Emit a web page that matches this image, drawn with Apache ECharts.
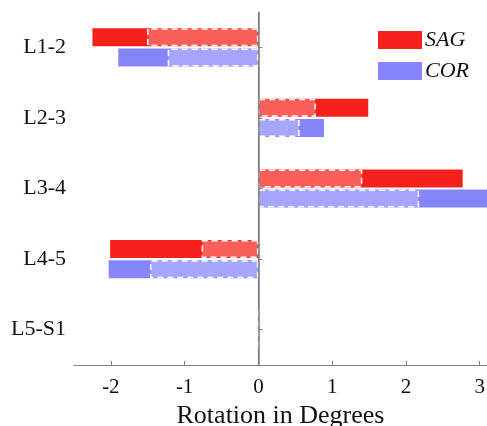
<!DOCTYPE html>
<html>
<head>
<meta charset="utf-8">
<script src="https://cdn.jsdelivr.net/npm/echarts@6/dist/echarts.min.js"></script>
<style>
  html, body { margin: 0; padding: 0; background: #fff; }
  #chart { width: 487px; height: 426px; }
</style>
</head>
<body>
<div id="chart"></div>
<script>
// levels, top to bottom
var levels = ['L1-2', 'L2-3', 'L3-4', 'L4-5', 'L5-S1'];
// full rotation per level (solid bars)
var sagValues = [-2.25, 1.49, 2.77, -2.01, 0.01];
var corValues = [-1.90, 0.89, 3.20, -2.03, 0.01];
// inner part (dashed bars)
var sagInner = [-1.51, 0.78, 1.41, -0.77, 0];
var corInner = [-1.23, 0.56, 2.18, -1.47, 0];
var xTicks = [-2, -1, 0, 1, 2, 3];

var serif = '"Liberation Serif", "DejaVu Serif", serif';
var axisGray = '#808080';

var chartDom = document.getElementById('chart');
var myChart = echarts.init(chartDom);

var catAxis = function (show) {
  return {
    type: 'category',
    data: levels,
    inverse: true,
    show: show,
    axisLine: { show: true, lineStyle: { color: axisGray, width: 1.2 } },
    axisTick: { show: true, inside: true, length: 4, alignWithLabel: true, lineStyle: { color: axisGray } },
    axisLabel: { color: '#111', fontFamily: serif, fontSize: 22, margin: 8 },
    splitLine: { show: false }
  };
};

var dashedStyle = function (fill) {
  return {
    color: fill,
    borderColor: '#ffffff',
    borderWidth: 1.5,
    borderType: [6, 4]
  };
};

var option = {
  animation: false,
  backgroundColor: '#fff',
  grid: { left: 74, right: 0, top: 12, bottom: 61, containLabel: false, outerBoundsMode: 'none' },
  legend: {
    data: ['SAG', 'COR'],
    orient: 'vertical',
    left: 378,
    top: 29,
    padding: 0,
    icon: 'rect',
    itemWidth: 44,
    itemHeight: 18,
    itemGap: 9,
    textStyle: { fontFamily: serif, fontStyle: 'italic', fontSize: 22, color: '#111', padding: [0, 0, 0, -2] }
  },
  xAxis: {
    type: 'value',
    min: -2.5,
    max: 3.1,
    name: 'Rotation in Degrees',
    nameLocation: 'middle',
    nameGap: 32,
    nameTextStyle: { fontFamily: serif, fontSize: 26, color: '#111' },
    axisLine: { show: true, lineStyle: { color: axisGray, width: 1.2 } },
    axisTick: { show: true, inside: true, length: 4, customValues: xTicks, lineStyle: { color: axisGray } },
    axisLabel: { customValues: xTicks, fontFamily: serif, fontSize: 21, color: '#111', margin: 12 },
    splitLine: { show: false }
  },
  yAxis: [catAxis(true), catAxis(false)],
  series: [
    {
      name: 'SAG',
      type: 'bar',
      yAxisIndex: 0,
      data: sagValues,
      barWidth: 18,
      barGap: '12%',
      itemStyle: { color: '#f5211a' },
      markLine: {
        silent: true,
        symbol: 'none',
        label: { show: false },
        lineStyle: { color: axisGray, type: 'solid', width: 1.5 },
        data: [{ xAxis: 0 }]
      }
    },
    {
      name: 'COR',
      type: 'bar',
      yAxisIndex: 0,
      data: corValues,
      barWidth: 18,
      barGap: '12%',
      itemStyle: { color: '#8686fc' }
    },
    {
      name: 'SAG inner',
      type: 'bar',
      yAxisIndex: 1,
      data: sagInner,
      barWidth: 18,
      barGap: '12%',
      itemStyle: dashedStyle('#fc5f59')
    },
    {
      name: 'COR inner',
      type: 'bar',
      yAxisIndex: 1,
      data: corInner,
      barWidth: 18,
      barGap: '12%',
      itemStyle: dashedStyle('#a6a6fe')
    }
  ]
};

myChart.setOption(option);
</script>
</body>
</html>
